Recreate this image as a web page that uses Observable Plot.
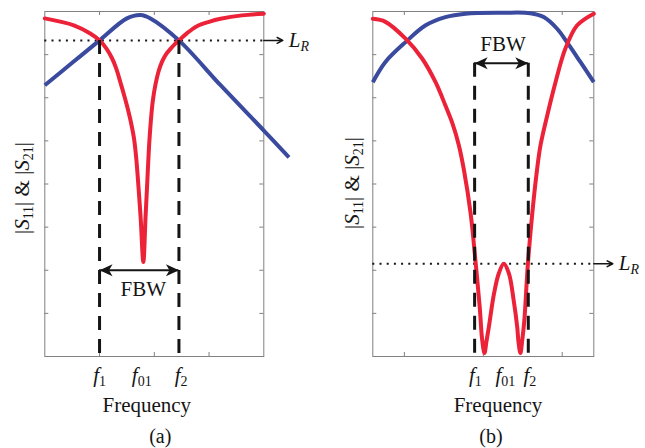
<!DOCTYPE html>
<html><head><meta charset="utf-8">
<script src="https://cdn.jsdelivr.net/npm/d3@7"></script>
<script src="https://cdn.jsdelivr.net/npm/@observablehq/plot@0.6"></script>
<style>
html,body{margin:0;padding:0;background:#fff;}
#fig{position:relative;width:645px;height:448px;overflow:hidden;background:#fff;}
#fig svg{position:absolute;top:0;}
</style></head><body><div id="fig"></div>
<script>
// ---------- Panel (a): single resonance ----------
const aS11Freq = [0, 0.53, 0.83, 1.0, 1.12, 1.23, 1.31, 1.38, 1.44, 1.5, 1.57, 1.63, 1.67, 1.71, 1.75, 1.80, 1.84, 1.87, 1.90, 1.93, 1.97, 2.02, 2.08, 2.15, 2.22, 2.30, 2.38, 2.45, 2.6, 2.78, 3.0, 3.21, 3.6, 4.0];
const aS11Mag  = [7.84, 7.68, 7.49, 7.33, 7.15, 6.91, 6.66, 6.36, 6.1, 5.82, 5.45, 5.05, 4.6, 3.95, 3.23, 2.19, 3.23, 4.0, 4.78, 5.35, 5.9, 6.3, 6.62, 6.86, 7.02, 7.14, 7.25, 7.33, 7.5, 7.66, 7.76, 7.83, 7.91, 7.95];
const aS21Freq = [0, 0.5, 1.0, 1.5, 1.75, 1.93, 2.45, 3.21, 4.0, 4.46];
const aS21Mag  = [6.29, 6.81, 7.33, 7.84, 7.92, 7.84, 7.33, 6.29, 5.24, 4.62];
const aEdges = [1.0, 2.45];               // f1, f2
const aTickPos = [1.0, 1.77, 2.49];
const aTickLabels = ["f_1", "f_01", "f_2"];
const aLR = [7.33];
const aFBW = [2.0];
const aFBWLabelX = [1.8];
const aGridX = [1, 2, 3];

// ---------- Panel (b): two-pole response ----------
const bS11Freq = [-2.8, -2.48, -1.97, -1.55, -1.21, -0.96, -0.78, -0.62, -0.49, -0.32, -0.20, -0.09, -0.03, 0.03, 0.08, 0.14, 0.27, 0.39, 0.52, 0.65, 0.77, 0.86, 0.89, 0.94, 0.99, 1.04, 1.13, 1.24, 1.36, 1.45, 1.62, 1.83, 2.08, 2.38, 2.8];
const bS11Mag  = [7.83, 7.76, 7.37, 6.91, 6.36, 5.82, 5.4, 4.9, 4.32, 3.31, 2.23, 1.14, 0.4, 0.08, 0.35, 0.68, 1.45, 1.92, 2.15, 1.92, 1.30, 0.68, 0.35, 0.08, 0.4, 0.84, 2.15, 3.31, 4.32, 4.9, 5.59, 6.36, 7.14, 7.68, 7.95];
const bS21Freq = [-2.8, -2.48, -1.97, -1.46, -0.96, -0.45, 0.5, 1.19, 1.53, 1.87, 2.12, 2.46, 2.8];
const bS21Mag  = [6.36, 6.83, 7.29, 7.68, 7.87, 7.95, 7.97, 7.96, 7.87, 7.6, 7.29, 6.83, 6.36];
const bEdges = [-0.22, 1.14];
const bTickPos = [-0.2, 0.56, 1.18];
const bTickLabels = ["f_1", "f_01", "f_2"];
const bLR = [2.15];
const bFBW = [6.8];
const bFBWLabelX = [0.5];
const bGridX = [-2, 0, 2];

const gridY = [1, 2, 3, 4, 5, 6, 7];

const RED = "#ec2238", BLUE = "#3a4a9e", INK = "#151515", GRAY = "#808080";
const FONT = "Liberation Serif";

// filled "stealth" arrowheads, tip at the anchor point
const headRight = {draw(ctx) { ctx.moveTo(0, 0); ctx.lineTo(-13, -6); ctx.lineTo(-9.5, 0); ctx.lineTo(-13, 6); ctx.closePath(); }};
const headLeft  = {draw(ctx) { ctx.moveTo(0, 0); ctx.lineTo(13, -6); ctx.lineTo(9.5, 0); ctx.lineTo(13, 6); ctx.closePath(); }};

function zip(xs, ys) { return xs.map((x, i) => ({x, y: ys[i]})); }

function mathify(svg) {
  const ns = "http://www.w3.org/2000/svg";
  svg.querySelectorAll("text").forEach(t => {
    const src = t.textContent;
    if (!src.includes("_")) return;
    const base = 21, sub = 14, shift = 4;
    t.textContent = "";
    let down = false;
    const add = (str, italic, isSub) => {
      const ts = document.createElementNS(ns, "tspan");
      ts.textContent = str;
      if (italic) ts.setAttribute("font-style", "italic");
      ts.setAttribute("font-size", isSub ? sub : base);
      if (isSub && !down) { ts.setAttribute("dy", shift); down = true; }
      else if (!isSub && down) { ts.setAttribute("dy", -shift); down = false; }
      t.appendChild(ts);
    };
    const re = /_([A-Za-z0-9]+)|([A-Za-z]+)|([^_A-Za-z]+)/g;
    let m;
    while ((m = re.exec(src))) {
      if (m[1]) add(m[1], /[A-Za-z]/.test(m[1]), true);
      else if (m[2]) add(m[2], true, false);
      else add(m[3], false, false);
    }
  });
}

function panel(o) {
  const FW = o.width - o.ml - o.mr, FH = o.height - o.mt - o.mb;
  const [x0, x1] = o.xDomain;
  const pxPerUnit = FW / (x1 - x0);
  const s11 = zip(o.s11x, o.s11y), s21 = zip(o.s21x, o.s21y);
  const svg = Plot.plot({
    width: o.width, height: o.height,
    marginLeft: o.ml, marginRight: o.mr, marginTop: o.mt, marginBottom: o.mb,
    style: {fontFamily: FONT, background: "transparent", overflow: "visible"},
    x: {domain: o.xDomain, axis: null},
    y: {domain: [0, 8], axis: null},
    marks: [
      Plot.frame({stroke: GRAY, strokeWidth: 1}),
      Plot.tickX(o.gridX, {insetTop: FH - 4, stroke: GRAY, strokeWidth: 1}),
      Plot.tickX(o.gridX, {insetBottom: FH - 4, stroke: GRAY, strokeWidth: 1}),
      Plot.tickY(gridY, {insetRight: FW - 4, stroke: GRAY, strokeWidth: 1}),
      Plot.tickY(gridY, {insetLeft: FW - 4, stroke: GRAY, strokeWidth: 1}),
      Plot.ruleY(o.LR, {stroke: INK, strokeWidth: 2, strokeDasharray: "2 5.2"}),
      Plot.line(s21, {x: "x", y: "y", stroke: BLUE, strokeWidth: 4, curve: "catmull-rom", strokeLinecap: "butt"}),
      Plot.line(s11, {x: "x", y: "y", stroke: RED, strokeWidth: 4, curve: "catmull-rom"}),
      Plot.ruleX(o.edges.map(e => ({x: e, y1: o.dashTop, y2: 0})), {x: "x", y1: "y1", y2: "y2", stroke: INK, strokeWidth: 3, strokeDasharray: "14 9"}),
      Plot.ruleY([{x1: o.edges[0], x2: o.edges[1], y: o.FBW[0]}], {x1: "x1", x2: "x2", y: "y", stroke: INK, strokeWidth: 2.2}),
      Plot.dot([{x: o.edges[0], y: o.FBW[0]}], {x: "x", y: "y", symbol: headLeft, fill: INK, stroke: "none"}),
      Plot.dot([{x: o.edges[1], y: o.FBW[0]}], {x: "x", y: "y", symbol: headRight, fill: INK, stroke: "none"}),
      Plot.text(["FBW"], {x: o.fbwX, y: o.FBW, dy: o.fbwDy, lineAnchor: "bottom", fontSize: 21, fill: INK}),
      Plot.arrow([{x1: x1, x2: x1 + 19 / pxPerUnit, y: o.LR[0]}], {x1: "x1", x2: "x2", y1: "y", y2: "y", stroke: INK, strokeWidth: 1.5, headLength: 11, headAngle: 55}),
      Plot.text(["L_R"], {x: [x1], y: o.LR, dx: 25, dy: 6.5, textAnchor: "start", lineAnchor: "bottom", fontSize: 21, fill: INK}),
      Plot.text(o.tickLabels, {x: o.tickPos, frameAnchor: "bottom", dy: 25, textAnchor: "middle", lineAnchor: "bottom", fontSize: 21, fill: INK}),
      Plot.text(["Frequency"], {frameAnchor: "bottom", dx: o.freqDx, dy: 55, textAnchor: "middle", lineAnchor: "bottom", fontSize: 21, fill: INK}),
      Plot.text([o.tag], {frameAnchor: "bottom", dx: o.tagDx, dy: 86, textAnchor: "middle", lineAnchor: "bottom", fontSize: 20, fill: INK}),
      Plot.text(["|S_11| & |S_21|"], {frameAnchor: "left", rotate: -90, dx: o.ylabDx, dy: o.ylabDy, textAnchor: "middle", lineAnchor: "bottom", fontSize: 21, fill: INK})
    ]
  });
  mathify(svg);
  svg.style.left = o.left + "px";
  return svg;
}

const fig = document.getElementById("fig");
fig.appendChild(panel({
  left: 0, width: 330, height: 448, ml: 44.3, mr: 66.7, mt: 11, mb: 92,
  xDomain: [0, 4], gridX: aGridX,
  s11x: aS11Freq, s11y: aS11Mag, s21x: aS21Freq, s21y: aS21Mag,
  edges: aEdges, dashTop: aLR[0], LR: aLR, FBW: aFBW, fbwX: aFBWLabelX, fbwDy: 26,
  tickPos: aTickPos, tickLabels: aTickLabels, freqDx: -7.5, tagDx: 6, tag: "(a)",
  ylabDx: -15.5, ylabDy: 4
}));
fig.appendChild(panel({
  left: 330, width: 315, height: 448, ml: 42.3, mr: 51.7, mt: 11, mb: 92,
  xDomain: [-2.8, 2.8], gridX: bGridX,
  s11x: bS11Freq, s11y: bS11Mag, s21x: bS21Freq, s21y: bS21Mag,
  edges: bEdges, dashTop: bFBW[0], LR: bLR, FBW: bFBW, fbwX: bFBWLabelX, fbwDy: -12.7,
  tickPos: bTickPos, tickLabels: bTickLabels, freqDx: 14.7, tagDx: 7.7, tag: "(b)",
  ylabDx: -13.5, ylabDy: -1
}));
</script></body></html>
